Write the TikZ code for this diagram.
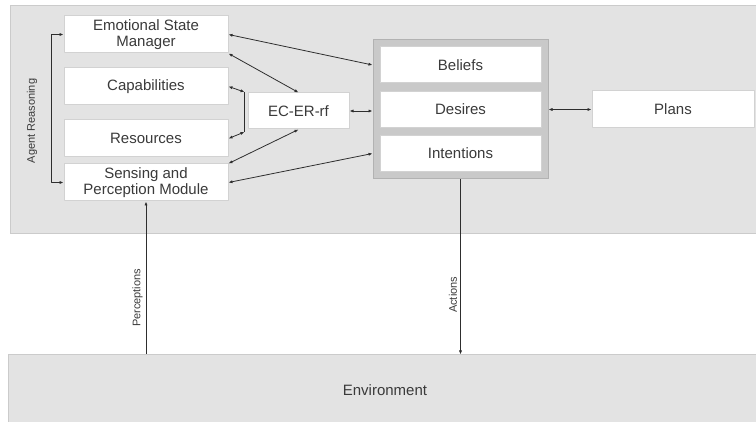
\documentclass[tikz,border=0pt]{standalone}
\usepackage{fontspec}
\setmainfont{Liberation Sans}
\usetikzlibrary{arrows.meta,calc,fit,backgrounds}
\definecolor{panelgray}{HTML}{E3E3E3}
\definecolor{paneledge}{HTML}{CBCBCB}
\definecolor{bdigray}{HTML}{C9C9C9}
\definecolor{bdiedge}{HTML}{B2B2B2}
\definecolor{boxedge}{HTML}{D2D2D2}
\definecolor{linegray}{HTML}{2E2E2E}
\definecolor{textgray}{HTML}{3A3A3A}
\begin{document}
\begin{tikzpicture}[x=1pt,y=-1pt,line join=round,>={Latex[length=4pt,width=3.2pt]},
  font=\fontsize{15}{15.5}\selectfont,text=textgray,
  panel/.style={fill=panelgray,draw=paneledge,line width=1pt},
  whitebox/.style={draw=boxedge,fill=white,line width=1pt,align=center,inner sep=0pt,minimum height=37pt},
  link/.style={<->,draw=linegray,line width=0.8pt},
  sidelabel/.style={font=\fontsize{11}{12}\selectfont,rotate=90,anchor=south,inner sep=3pt}]
\useasboundingbox (0,0) rectangle (756,422);
\begin{scope}[on background layer]
\path[panel] (10,6) rectangle (762,234);
\end{scope}
% left column
\foreach \n/\y/\t in {esm/34.5/{Emotional State\\Manager},cap/86.5/Capabilities,res/138.5/Resources,sens/182.5/{Sensing and\\Perception Module}}{
  \node[whitebox,minimum width=164pt] (\n) at (146,\y) {\t};}
\node[whitebox,minimum width=101pt,minimum height=36pt] (ec) at (298.5,111) {EC-ER-rf};
% BDI
\foreach \n/\y/\t in {bel/65/Beliefs,des/109.5/Desires,int/153.5/Intentions}{
  \node[whitebox,minimum width=161pt,minimum height=36pt] (\n) at (460.5,\y) {\t};}
\begin{scope}[on background layer]
\node[fill=bdigray,draw=bdiedge,line width=1pt,inner sep=6.5pt,fit=(bel)(int)] (bdi) {};
\end{scope}
\node[whitebox,minimum width=162pt,minimum height=37pt] (plans) at (673,109.5) {Plans};
\node[panel,minimum width=754pt,minimum height=70pt,inner sep=0pt] (env) at (385,390) {Environment};
% connectors
\draw[link] (esm.west) -- ++(-12,0) |- (sens.west);
\node[sidelabel,anchor=center] (agr) at (32,121) {Agent Reasoning};
\coordinate (brt) at ($(ec.west)+(-3,-19)$);
\coordinate (brb) at ($(ec.west)+(-3,21)$);
\draw[link] (cap.east) -- (brt);
\draw[link] (res.east) -- (brb);
\draw[draw=linegray,line width=0.8pt] (brt) -- (brb);
\draw[link] (esm.east) -- (bdi.west |- bel.west);
\draw[link] (esm.south east) -- (ec.north);
\draw[link] (sens.north east) -- (ec.south);
\draw[link] (sens.east) -- (bdi.west |- int.west);
\draw[link] (ec.east) -- (bdi.west |- ec.east);
\draw[link] (bdi.east |- plans.west) -- (plans.west);
\draw[link,<-] (sens.south) -- node[sidelabel,pos=0.63] {Perceptions} (sens.south |- env.north);
\draw[link,->] (int.south |- bdi.south) -- node[sidelabel,pos=0.66] {Actions} (int.south |- env.north);
\end{tikzpicture}
\end{document}
